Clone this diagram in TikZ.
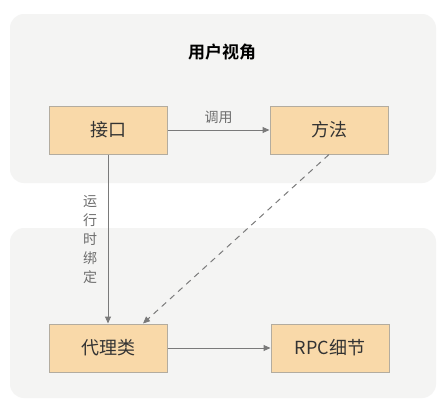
\documentclass[tikz,border=0pt]{standalone}
\usepackage{fontspec}
\setmainfont{Noto Sans CJK SC}
\newfontfamily\cjkb{Noto Sans CJK SC Bold}
\usetikzlibrary{arrows.meta}
\definecolor{panel}{HTML}{F4F4F3}
\definecolor{boxfill}{HTML}{F9D9A9}
\definecolor{boxline}{HTML}{B3AC9F}
\definecolor{linec}{HTML}{7A7A7A}
\definecolor{txt}{HTML}{333333}
\definecolor{lbl}{HTML}{6E6E6E}
\tikzset{
  panelbox/.style={fill=panel,draw=none,rounded corners=14pt},
  comp/.style={draw=boxline,line width=1pt,fill=boxfill,minimum width=118pt,minimum height=48pt,inner sep=0pt,font=\fontsize{18}{20}\selectfont,text=txt},
  conn/.style={draw=linec,line width=1pt,-{Triangle[length=7pt,width=6pt]}},
  lab/.style={font=\fontsize{14}{16}\selectfont,text=lbl,inner sep=0pt}
}
\begin{document}
\begin{tikzpicture}[x=1pt,y=-1pt]
\useasboundingbox (0,0) rectangle (445,408);
\fill[white] (0,0) rectangle (445,408);
\path[panelbox] (10,14) rectangle (436,183);
\path[panelbox] (10,228) rectangle (436,398);
\node[font=\cjkb\fontsize{17}{19}\selectfont,text=black] (title) at (222,52) {用户视角};
\node[comp] (iface) at (108,130) {接口};
\node[comp] (method) at (329,130) {方法};
\node[comp] (proxy) at (108,348) {代理类};
\node[comp] (rpc) at (330,348) {RPC细节};
\draw[conn] (iface) -- node[lab,above=6pt] {调用} (method);
\draw[conn] (iface) -- (proxy);
\draw[conn,dashed,dash pattern=on 6pt off 5pt] (method.south) -- (proxy.north east -| 143,0);
\node[lab,align=center,font=\fontsize{14}{19}\selectfont] (bind) at (90,240) {运\\行\\时\\绑\\定};
\draw[conn] (proxy) -- (rpc);
\end{tikzpicture}
\end{document}
